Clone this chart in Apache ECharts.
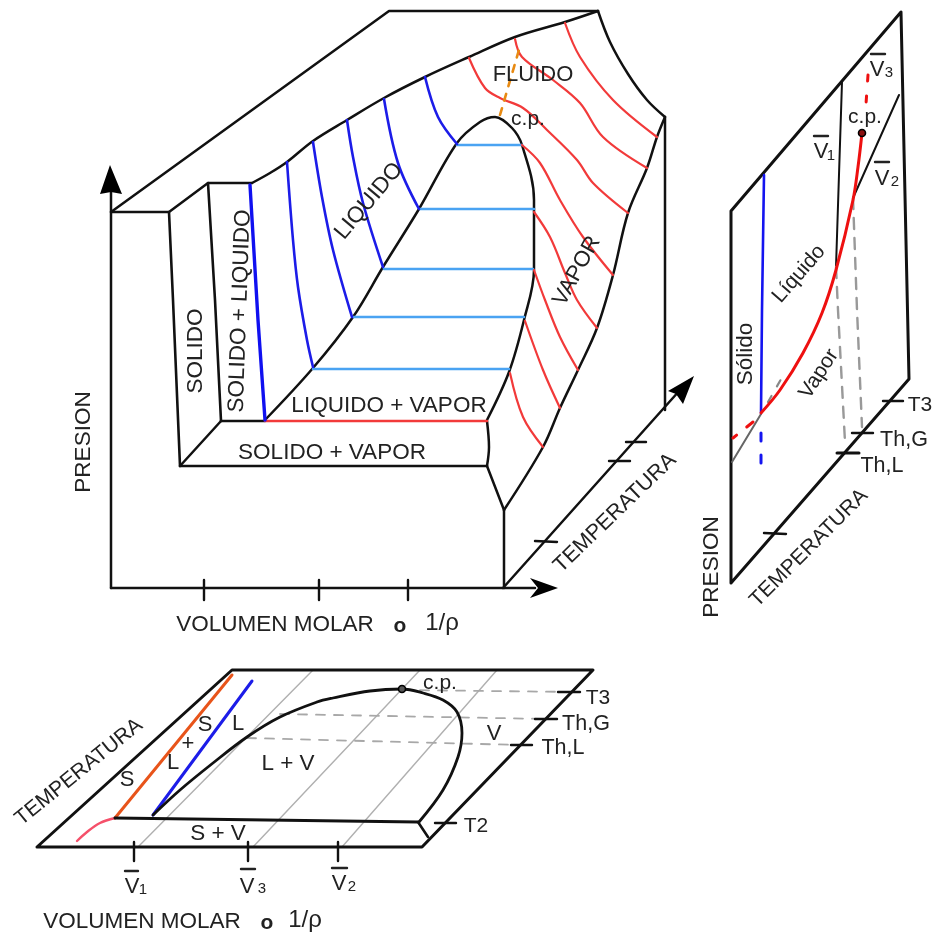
<!DOCTYPE html>
<html><head><meta charset="utf-8">
<style>html,body{margin:0;padding:0;background:#fff}#c{width:939px;height:935px}</style>
<script src="https://cdn.jsdelivr.net/npm/echarts@6/dist/echarts.min.js"></script>
</head><body><div id="c"></div>
<script>
// ---- main P-V-T surface
const backEdge=[[111,212],[389,11],[598,11]];
const frontShelf=[[111,212],[169,212],[208,183],[252,183]];
const ridge=[[252,183],[270,173],[287,162],[313,141],[347,120],[384,98],[425,77],[469,57],[515,37],[565,22],[598,11]];
const fluidEdge=[[598,11],[610,42],[628,74],[647,100],[665,117]];
const vaporEdge=[[665,117],[657,137],[647,168],[628,213],[613,275],[597,328],[578,370],[560,408],[543,447],[504,510]];
const rearVertical=[[665,117],[665,410]];
const frontVertical=[[504,510],[504,588]];
const pressureAxis=[[111,588],[111,185]];
const volumeAxis=[[111,588],[535,588]];
const tempAxis=[[503,588],[680,390]];
const solidLeft=[[169,212],[173,300],[180,466]];
const solidRight=[[208,183],[215,300],[221,421]];
const solidDiag=[[221,421],[180,466]];
const solidVaporBase=[[180,466],[487,466]];
const tripleBlack=[[221,421],[265,421]];
const tripleRed=[[265,421],[487,421]];
const domeMain=[[265,420],[313,368],[353,317],[383,267],[419,209],[457,143],[480,122],[495,117],[512,128],[522,145],[534,200],[534,270],[524,320],[509,372],[487,420]];
const vaporFoot=[[487,421],[489,447],[487,466]];
const vaporToe=[[487,466],[504,510]];
const tie1=[[457,145],[522,145]];
const tie2=[[420,209],[534,209]];
const tie3=[[384,269],[533,269]];
const tie4=[[353,317],[524,317]];
const tie5=[[313,369],[509,369]];
const iso1=[[250,185],[258,320],[265,420]];
const iso2=[[287,162],[293,240],[298,287],[307,340],[313,367]];
const iso3=[[313,142],[322,197],[333,250],[352,317]];
const iso4=[[347,120],[353,157],[363,203],[383,267]];
const iso5=[[384,99],[398,163],[419,209]];
const iso6=[[425,77],[438,117],[457,144]];
const red1=[[469,58],[485,88],[500,98],[523,108],[547,130],[577,160],[593,183],[628,213]];
const red2=[[515,39],[522,57],[553,80],[580,103],[603,137],[647,168]];
const red3=[[565,23],[580,57],[613,100],[657,137]];
const red4=[[522,145],[540,163],[560,200],[583,237],[613,275]];
const red5=[[534,212],[550,237],[565,273],[577,300],[597,328]];
const red6=[[534,270],[545,300],[560,337],[578,370]];
const red7=[[525,321],[543,370],[560,408]];
const red8=[[510,373],[523,417],[543,447]];
const criticalDash=[[500,115],[521,43]];
const xTick1=[[204,580],[204,600]];
const xTick2=[[319,580],[319,600]];
const xTick3=[[408,580],[408,600]];
const tTick1=[[535,541],[557,542]];
const tTick2=[[609,461],[630,461]];
const tTick3=[[626,442],[646,442]];
// ---- right P-T projection
const ptBox=[[731,583],[731,211],[901,12],[909,379],[731,583]];
const ptV1=[[842,82],[836,267]];
const ptV2=[[899,95],[853,198]];
const ptV1Dash=[[836,267],[838,310],[845,442]];
const ptV2Dash=[[853,198],[857,310],[862,427]];
const ptBlue=[[764,175],[762,310],[761,413]];
const ptBlueDash=[[761,433],[761,463]];
const ptRed=[[862,133],[858,167],[853,200],[836,270],[822,313],[803,353],[780,390],[761,413]];
const ptRedDashTop=[[868,75],[866,104]];
const ptRedDashLow=[[753,422],[733,438]];
const ptGray=[[761,414],[732,462]];
const ptGrayDash=[[768,402],[784,374]];
const ptCp=[862,133];
const ptTick1=[[883,401],[903,401]];
const ptTick2=[[852,433],[873,433]];
const ptTick3=[[837,453],[859,453]];
const ptTick4=[[764,533],[786,534]];
// ---- lower T-V projection
const tvBox=[[37,847],[232,670],[593,670],[422,847],[37,847]];
const tvGrid1=[[138,847],[313,670]];
const tvGrid2=[[253,847],[420,670]];
const tvGrid3=[[342,847],[497,670]];
const tvOrange=[[115,818],[232,675]];
const tvBlue=[[153,815],[252,681]];
const tvRed=[[77,841],[87,832],[100,823],[115,818]];
const tvBase=[[115,818],[418,822]];
const tvDome=[[153,815],[180,790],[213,763],[247,737],[280,717],[317,702],[333,698],[370,691],[402,689],[423,693],[443,700],[457,712],[462,733],[458,757],[443,790],[419,822]];
const tvFoot=[[418,822],[428,837]];
const tvDash1=[[402,690],[577,692]];
const tvDash2=[[280,714],[547,719]];
const tvDash3=[[247,738],[520,745]];
const tvTick1=[[558,692],[580,692]];
const tvTick2=[[535,719],[557,719]];
const tvTick3=[[511,745],[532,745]];
const tvTick4=[[435,823],[456,823]];
const tvX1=[[134,842],[134,861]];
const tvX2=[[248,842],[248,861]];
const tvX3=[[338,842],[338,861]];
const tvCp=[402,689];
// overbars of the V symbols
const bars=[[[814,136],[828,136]],[[875,162],[889,162]],[[871,54],[885,54]],[[125,871],[138,871]],[[241,869],[255,869]],[[332,868],[347,868]]];
// arrow heads
const arrowUp=[[110,165],[122,194],[111,192],[100,194]];
const arrowRight=[[558,588],[530,598],[538,588],[530,578]];
const arrowTemp=[[694,376],[683,404],[676,394],[668,391]];
// texts and where they sit: text / x, y, rotation, size
const labelTexts=[
 'FLUIDO','c.p.','LIQUIDO','VAPOR','SOLIDO','SOLIDO + LIQUIDO','LIQUIDO + VAPOR','SOLIDO + VAPOR',
 'PRESION','VOLUMEN MOLAR','o','1/ρ','TEMPERATURA',
 'T3','Th,G','Th,L','TEMPERATURA','PRESION','Vapor','Sólido','Líquido','c.p.',
 'V','1','V','2','V','3',
 'T3','Th,G','Th,L','T2','V','c.p.','L + V','L','S','+','L','S','S + V','TEMPERATURA',
 'V','1','V','3','V','2','VOLUMEN MOLAR','o','1/ρ'];
const labelPlaces=[
 [533,74.5,0,22],[528,119,0,21],[369,201,50,22.5],[577,271,61,22],[196,351,90,22.5],[240,311,88,22.5],[389,405.5,0,22.5],[332,452.5,0,22.5],
 [84,442,90,22.5],[275,624.5,0,22.5],[400,626,0,21],[442,623,0,24],[615,513,44,21.5],
 [920,405,0,21],[904,440,0,21.5],[882,466,0,21.5],[809,548,45,21],[712,567,90,22.5],[819,374,57,21],[746,354,90,22.5],[799,274,49,21],[865,117,0,21],
 [821,152,0,22],[831,156,0,15],[882,179,0,22],[895,182,0,15],[877,70,0,22],[889,73,0,15],
 [598,698,0,21],[586,724,0,21.5],[563,748,0,21.5],[476,826,0,21],[494,734,0,22],[440,683,0,21],[288,764,0,22.5],[238,724,0,22],[205,725,0,22],[188,744,0,22],[173,763,0,22],[127,780,0,22],[218,834,0,22.5],[79,772,39,21],
 [132,887,0,22],[143,890,0,15],[247,887,0,22],[262,889,0,15],[339,884,0,22],[352,887,0,15],[142,921.5,0,22.5],[267,923,0,21],[305,920,0,24]];

const BLACK='#111',BLUE='#1c1ce8',RED='#f23a3a',TIE='#4aa3f2',GRAY='#a8a8a8';
function ln(data,color,width,dash,smooth){
  return {type:'line',data:data,showSymbol:false,symbol:'none',smooth:smooth?0.35:false,silent:true,clip:false,z:3,
    lineStyle:{color:color,width:width,type:dash||'solid',cap:'round',join:'round'}};
}
function poly(points){
  return {type:'custom',silent:true,clip:false,z:4,data:[[0,0]],renderItem:function(p,api){
    return {type:'polygon',shape:{points:points.map(function(q){return api.coord(q)})},style:{fill:'#000'}};
  }};
}
const series=[];
[backEdge,frontShelf,rearVertical,frontVertical,solidDiag,solidVaporBase,tripleBlack,pressureAxis,volumeAxis,tempAxis,vaporToe].forEach(function(d){series.push(ln(d,BLACK,2.5))});
[solidLeft,solidRight].forEach(function(d){series.push(ln(d,BLACK,2.6))});
[ridge,fluidEdge,vaporEdge,domeMain,vaporFoot].forEach(function(d){series.push(ln(d,BLACK,2.5,null,true))});
[tie1,tie2,tie3,tie4,tie5].forEach(function(d){series.push(ln(d,TIE,2.6))});
series.push(ln(tripleRed,RED,2.6));
series.push(ln(iso1,'#1010f0',3.4));
[iso2,iso3,iso4,iso5,iso6].forEach(function(d){series.push(ln(d,BLUE,2.6,null,true))});
[red1,red2,red3,red4,red5,red6,red7,red8].forEach(function(d){series.push(ln(d,RED,2.2,null,true))});
series.push(ln(criticalDash,'#e88a12',2.6,[7,8]));
[xTick1,xTick2,xTick3,tTick1,tTick2,tTick3].forEach(function(d){series.push(ln(d,BLACK,2.4))});
series.push(ln(ptBox,BLACK,3));
[ptV1,ptV2].forEach(function(d){series.push(ln(d,BLACK,2))});
[ptV1Dash,ptV2Dash].forEach(function(d){series.push(ln(d,'#999',2.4,[11,9]))});
series.push(ln(ptGray,'#666',2));
series.push(ln(ptGrayDash,'#888',2.2,[7,11]));
series.push(ln(ptBlue,'#1414f0',2.6));
series.push(ln(ptBlueDash,'#1414f0',3,[8,14]));
series.push(ln(ptRed,'#ee1010',3,null,true));
series.push(ln(ptRedDashTop,'#ee1010',3,[6,15]));
series.push(ln(ptRedDashLow,'#ee1010',3,[8,13]));
[ptTick1,ptTick2,ptTick4].forEach(function(d){series.push(ln(d,BLACK,2.4))});
series.push(ln(ptTick3,BLACK,3));
[tvGrid1,tvGrid2,tvGrid3].forEach(function(d){series.push(ln(d,'#b0b0b0',1.4))});
[tvDash1,tvDash2,tvDash3].forEach(function(d){series.push(ln(d,GRAY,1.8,[9,9]))});
series.push(ln(tvBox,BLACK,3));
series.push(ln(tvOrange,'#e8541a',3));
series.push(ln(tvBlue,'#1c1ce8',3));
series.push(ln(tvRed,'#f5506a',2.4,null,true));
series.push(ln(tvBase,BLACK,3));
series.push(ln(tvDome,BLACK,2.8,null,true));
series.push(ln(tvFoot,BLACK,2.6));
[tvTick1,tvTick2,tvTick3,tvTick4,tvX1,tvX2,tvX3].forEach(function(d){series.push(ln(d,BLACK,2.4))});
bars.forEach(function(d){series.push(ln(d,'#222',2.4))});
[arrowUp,arrowRight,arrowTemp].forEach(function(d){series.push(poly(d))});
series.push({type:'scatter',silent:true,clip:false,z:5,symbolSize:7,
  itemStyle:{opacity:1,color:'#8a1010',borderColor:'#000',borderWidth:1.6},data:[ptCp]});
series.push({type:'scatter',silent:true,clip:false,z:5,symbolSize:7,
  itemStyle:{opacity:1,color:'#555',borderColor:'#000',borderWidth:1.6},data:[tvCp]});
series.push({type:'scatter',silent:true,clip:false,z:6,symbolSize:1,itemStyle:{opacity:1,color:'rgba(0,0,0,0)'},
  data:labelTexts.map(function(txt,i){const p=labelPlaces[i];return {value:[p[0],p[1]],label:{show:true,position:'inside',formatter:txt,
    rotate:p[2],fontSize:p[3],fontWeight:txt==='o'?'bold':'normal',fontFamily:'"Liberation Sans",Arial,sans-serif',color:'#222',align:'center',verticalAlign:'middle'}}})
});
const chart=echarts.init(document.getElementById('c'),null,{renderer:'canvas'});
chart.setOption({animation:false,backgroundColor:'#fff',
  grid:{left:0,right:0,top:0,bottom:0,containLabel:false},
  xAxis:{type:'value',min:0,max:939,show:false},
  yAxis:{type:'value',min:0,max:935,inverse:true,show:false},
  series:series});
</script></body></html>
